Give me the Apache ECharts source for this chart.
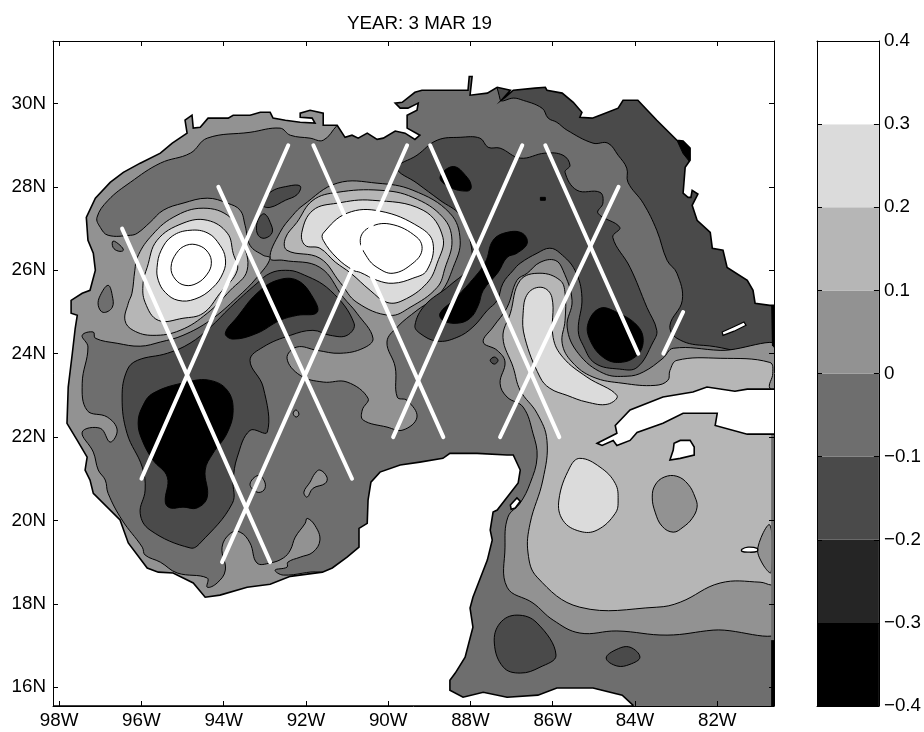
<!DOCTYPE html>
<html><head><meta charset="utf-8">
<style>html,body{margin:0;padding:0;background:#fff}#c{width:924px;height:732px}</style>
<script src="https://cdn.jsdelivr.net/npm/echarts@6/dist/echarts.min.js"></script>
</head><body><div id="c"></div>
<script>
// All coordinates: [degrees West, degrees North]
const xTicks=[98,96,94,92,90,88,86,84,82];
const yTicks=[16,18,20,22,24,26,28,30];
const colorLevels=[-0.4,-0.3,-0.2,-0.1,0,0.1,0.2,0.3,0.4];
const title='YEAR: 3 MAR 19';

const basin=[[98.2,31.6],[80.4,31.6],[80.4,15.4],[98.2,15.4]];
const westShelf=[[91.05,30.08],[91.05,29.65],[91.24,29.48],[91.58,29.12],[91.9,29.17],[92.38,29.24],[92.63,29.41],[93.36,29.31],[94.4,29.17],[94.81,28.81],[95.54,28.57],[96.27,28.11],[96.81,27.68],[97.08,27.27],[97,27.03],[96.81,26.84],[96.27,26.84],[96.1,26.89],[95.79,27.15],[95.47,27.44],[94.99,27.61],[94.4,27.73],[93.91,27.61],[93.6,27.44],[93.48,27.08],[93.36,26.6],[93.04,26.36],[92.87,26.29],[93.19,25.83],[93.67,25.35],[94.33,24.8],[94.99,24.44],[95.54,24.28],[96.03,24.18],[96.59,24.25],[97.12,24.37],[97.17,24.52],[97.44,24.44],[97.3,24.16],[97.44,23.29],[97.32,22.64],[96.83,22.48],[96.59,22.17],[96.76,21.88],[97,22.21],[97.44,22.12],[97.17,21.64],[97.05,21.21],[96.88,20.97],[96.81,20.65],[96.47,20.01],[95.98,19.36],[95.91,19.17],[95.54,19],[95.13,18.74],[94.4,18.62],[94.4,18.4],[94.16,18.5],[93.96,18.81],[94.04,19.36],[93.84,19.69],[93.6,19.72],[93.36,19.46],[93.19,18.98],[92.87,18.98],[92.55,19.1],[92.38,19.29],[92.26,19.6],[92.02,19.93],[91.97,20.05],[91.78,19.88],[91.66,19.53],[91.83,19.24],[92.14,19.12],[92.44,19],[92.46,18.88],[92.75,18.81],[92.55,18.69],[91.66,18.76],[91.6,18.57],[93.36,17.61],[98.3,17.61],[98.3,30.08]];
const westPatchA=[[96.69,26.7],[96.52,26.6],[96.44,26.48],[96.56,26.46],[96.69,26.55]];
const westPatchB=[[96.81,25.64],[96.71,25.4],[96.71,25.11],[96.93,24.99],[97.05,25.16],[97,25.4]];
const eddy1Ring1=[[96.16,26],[96.1,26.31],[95.79,26.79],[95.23,27.27],[94.5,27.49],[93.84,27.27],[93.55,26.72],[93.43,26],[93.84,25.52],[94.4,24.97],[95.06,24.56],[95.72,24.44],[96.2,24.56],[96.4,24.8],[96.32,25.21],[96.23,25.45]];
const eddy1Ring2=[[95.96,25.69],[95.86,26.07],[95.62,26.72],[94.99,27.13],[94.4,27.2],[93.91,26.89],[93.77,26.41],[93.67,26],[94.09,25.45],[94.5,24.97],[94.99,24.85],[95.59,24.8],[95.91,25.23]];
const eddy1Ring3=[[95.62,26.07],[95.52,26.48],[95.25,26.82],[94.82,26.96],[94.38,26.89],[94.09,26.6],[93.96,26.29],[94.01,25.95],[94.28,25.57],[94.7,25.31],[95.11,25.28],[95.42,25.47],[95.59,25.76]];
const eddy1Core=[[95.28,26.07],[95.15,26.41],[94.91,26.6],[94.62,26.6],[94.38,26.43],[94.3,26.17],[94.4,25.91],[94.65,25.69],[94.94,25.64],[95.18,25.79]];
const eddy2Ring0=[[92.87,26.29],[92.63,26.91],[92.32,27.32],[92.07,27.56],[91.24,28.09],[90.27,28.09],[89.4,27.92],[88.5,27.37],[88.25,26.72],[88.42,26.07],[88.74,25.45],[89.3,25.04],[89.78,24.64],[90.03,24.28],[89.83,23.68],[89.78,22.96],[89.54,22.88],[89.3,22.48],[89.64,22.17],[90.03,22.24],[90.61,22.41],[90.63,22.65],[90.49,22.93],[91,23.32],[91.58,23.32],[92.14,23.48],[92.46,23.89],[92.22,24.16],[91.73,24.08],[91.17,24.01],[90.61,24.13],[90.37,24.37],[90.76,24.97],[91.09,25.35],[91.66,26.07],[92.55,26.24]];
const eddy2Ring1=[[92.22,27.15],[92.5,26.77],[92.46,26.48],[91.66,26.29],[91.17,25.71],[90.76,25.23],[89.96,24.92],[89.47,25.11],[88.81,25.59],[88.62,26.05],[88.45,26.72],[88.67,27.27],[89.4,27.75],[90.2,27.92],[91.24,27.87],[91.83,27.68]];
const eddy2Ring2=[[92.1,26.91],[92.02,26.6],[91.66,26.53],[91.29,26.2],[90.91,25.93],[90.44,25.52],[90.03,25.23],[89.64,25.28],[89.06,25.69],[88.81,26.17],[88.67,26.79],[89.15,27.44],[90.39,27.68],[91.24,27.61],[91.83,27.44]];
const eddy2Ring3=[[91.58,26.89],[91.58,26.72],[91.24,26.29],[90.85,26],[90.68,25.95],[90.27,25.76],[89.88,25.69],[89.4,25.81],[89.06,26],[88.91,26.65],[89.23,27.03],[90.2,27.42],[91,27.37]];
const eddy2Core=[[90.68,26.72],[90.49,27.01],[89.96,27.11],[89.3,26.79],[89.18,26.48],[89.4,26.17],[89.88,25.93],[90.27,26.07],[90.51,26.31]];
const centralLow=[[89.78,28.45],[89.3,28.76],[88.81,29.12],[88.25,29.19],[87.77,29.17],[87.57,28.95],[87.28,28.93],[86.79,28.69],[86.19,28.81],[85.75,28.76],[85.58,28.52],[85.7,28.35],[85.41,27.92],[84.85,27.87],[84.78,27.61],[84.9,27.37],[84.37,27.03],[84.54,26.79],[84.12,26.07],[83.71,25.11],[83.47,24.56],[83.56,24.28],[83.95,23.67],[84.37,23.63],[84.97,23.77],[85.26,24.2],[85.38,24.56],[85.29,25.35],[85.46,26],[85.82,26.41],[86.07,26.53],[86.38,26.41],[86.79,26.17],[86.96,26],[87.21,25.69],[87.35,25.28],[87.59,25.04],[87.94,24.64],[88.33,24.39],[88.81,24.3],[89.23,24.49],[89.35,24.68],[89.11,25.16],[88.5,25.64],[88.01,26.12],[88.01,26.72],[88.25,27.32],[88.74,27.68],[89.3,28.09]];
const floridaShelf=[[87.28,31.6],[87.28,30.1],[86.96,30.13],[86.79,30.1],[86.26,29.89],[86.11,29.65],[85.9,29.55],[85.65,29.36],[85.02,29.05],[84.66,29.05],[84.41,28.76],[84.2,28.45],[84.17,28.11],[83.8,27.61],[83.47,26.96],[83.22,26.24],[82.98,25.93],[82.85,25.28],[83.15,24.68],[82.98,24.37],[82.34,24.2],[80.4,24.25],[80.4,31.6]];
const southwestLow=[[96.35,23.6],[96.47,22.96],[96.35,22.09],[95.98,21.28],[95.91,20.73],[96.03,20.17],[95.79,19.77],[94.81,19.34],[94.57,19.46],[93.79,20.41],[93.77,20.97],[93.67,21.52],[93.36,22.16],[92.94,22.12],[93.04,23.2],[93.36,23.84],[93.04,24.16],[92.38,24.44],[91.83,24.56],[91.41,24.44],[91,24.44],[90.83,24.73],[91.41,25.52],[92.14,25.93],[92.5,26],[92.87,25.93],[93.19,25.69],[93.84,25.11],[94.33,24.63],[94.82,24.25],[95.37,24.01],[96.1,23.84]];
const loopOuter=[[86.31,26.19],[86.62,25.93],[86.87,25.76],[87.11,25.11],[87.45,24.64],[87.69,24.28],[87.35,24.08],[87.16,23.8],[87.28,23.29],[87.11,22.96],[86.72,22.72],[86.48,22.09],[86.38,21.52],[86.55,20.89],[86.79,20.42],[87.09,20.08],[87.16,19.36],[87.11,18.4],[86.48,18.02],[85.99,17.61],[85.34,17.3],[84.44,17.35],[83.22,17.25],[82.1,17.37],[80.35,17.49],[80.35,24.04],[81.93,24.08],[83.07,24.13],[83.32,23.89],[83.8,23.56],[84.19,23.46],[84.77,23.53],[85.38,24.01],[85.65,24.64],[85.53,25.28],[85.75,26],[85.94,26.24]];
const loopInner=[[86.79,25.76],[86.31,25.93],[85.82,25.76],[85.7,25.45],[85.7,24.8],[85.77,24.25],[85.53,23.8],[85.02,23.44],[84.29,23.29],[83.51,23.24],[83.2,23.36],[83.15,23.6],[82.98,23.84],[81.93,23.89],[80.72,23.79],[80.65,23.53],[80.72,23.17],[80.35,23],[80.35,18.45],[80.68,18.45],[80.96,18.52],[81.93,18.5],[82.9,18.04],[83.47,17.92],[85.34,17.92],[86.38,18.64],[86.6,19.22],[86.55,19.93],[86.24,20.97],[86.14,21.92],[86.38,22.57],[86.79,23.12],[86.96,23.67],[87.21,24.39],[87.03,24.97]];
const loopCore=[[86.72,24.97],[86.6,25.45],[86.26,25.59],[86.02,25.35],[85.99,24.39],[85.75,23.91],[85.17,23.44],[84.44,23],[84.66,22.79],[85.17,22.84],[85.65,23],[86.07,23.17],[86.31,23.44],[86.68,24.39]];
const southHighA=[[85.58,21.28],[85.34,21.49],[84.85,21.28],[84.48,20.89],[84.41,20.49],[84.48,20.17],[84.92,19.77],[85.34,19.74],[85.75,20],[85.85,20.49]];
const southPatchB=[[83.58,20.56],[83.51,20.85],[83.29,21.04],[82.98,21.06],[82.71,20.87],[82.54,20.56],[82.49,20.32],[82.61,20.05],[82.83,19.84],[83.07,19.72],[83.34,19.86],[83.51,20.2]];
const eastPatch=[[80.72,19.89],[81.01,19.36],[80.91,18.98],[80.69,18.76]];
const hondurasLowA=[[86.87,17.73],[86.38,17.54],[85.92,16.77],[86.31,16.48],[86.79,16.34],[87.2,16.48],[87.42,17.06],[87.28,17.54]];
const hondurasLowB=[[84.7,16.7],[84.44,16.91],[84.12,16.96],[83.88,16.72],[84.12,16.55],[84.44,16.51]];
const northCore=[[88.74,28.23],[88.42,28.49],[88.08,28.23],[87.98,27.99],[88.08,27.9],[88.5,27.99]];
const midCore=[[87.45,26.72],[87.11,26.91],[86.74,26.89],[86.62,26.65],[86.87,26.41],[87.11,26.31],[87.33,25.95],[87.69,25.52],[87.81,25.16],[88.01,24.85],[88.33,24.73],[88.67,24.8],[88.74,24.97],[88.42,25.28],[88.01,25.71],[87.64,26.19]];
const loopLowCore=[[85.14,24.73],[84.85,25.09],[84.44,24.99],[83.95,24.68],[83.8,24.32],[83.95,23.96],[84.37,23.79],[84.77,23.91],[85.09,24.32]];
const tinyCore=[[86.3,27.75],[86.18,27.75],[86.18,27.68],[86.3,27.68]];
const bigBendCore=[[82.98,29.12],[82.83,29.1],[82.66,28.93],[82.66,28.59],[82.83,28.8]];
const shelfLowA=[[93,27.35],[92.87,27.15],[92.82,26.91],[93,26.77],[93.16,26.84],[93.2,27.08],[93.11,27.3]];
const shelfLowB=[[92.14,28.02],[92.43,28.02],[92.87,27.87],[93.04,27.56],[92.87,27.51],[92.5,27.68],[92.21,27.82]];
const campecheCore=[[95.98,22.72],[95.72,23.05],[94.89,23.32],[94.33,23.36],[93.91,23.12],[93.77,22.64],[93.92,22.09],[94.26,21.61],[94.45,21.21],[94.4,20.56],[94.65,20.3],[94.99,20.32],[95.3,20.3],[95.42,20.44],[95.37,21.04],[95.72,21.45],[95.98,21.92],[96.08,22.33]];
const centralCore=[[93.96,24.49],[93.67,24.88],[93.19,25.45],[92.7,25.76],[92.21,25.76],[91.83,25.35],[91.73,24.99],[92.21,24.92],[92.63,24.8],[93.19,24.49],[93.77,24.35]];
const dotA=[[92.31,22.57],[92.24,22.65],[92.17,22.55],[92.24,22.48]];
const dotB=[[93.16,21.08],[93,20.92],[93.02,20.73],[93.19,20.68],[93.36,20.87]];
const dotC=[[91.66,21.21],[91.49,21.04],[91.53,20.89],[91.83,20.77],[91.97,20.56],[92.05,20.68],[91.9,20.92],[91.78,21.13]];
const dotD=[[87.42,23.92],[87.33,23.84],[87.42,23.75],[87.52,23.84]];
const straitEdge=[[80.69,25.16],[80.5,25.16],[80.5,24],[80.67,24.2]];
const rimEdge=[[80.69,22.07],[80.5,22.07],[80.5,15.5],[80.69,15.5]];
const rimEdgeDark=[[80.69,17.13],[80.5,17.13],[80.5,15.5],[80.69,15.5]];
const land=[[80.6,31.5],[80.6,25.16],[80.72,25.16],[81.08,25.21],[81.13,25.52],[81.27,25.76],[81.76,26.07],[81.86,26.48],[82.12,26.53],[82.17,26.91],[82.49,27.2],[82.61,27.56],[82.47,27.83],[82.61,27.92],[82.64,27.75],[82.71,27.75],[82.83,27.85],[82.78,28.47],[82.66,28.64],[82.66,28.93],[82.83,29.1],[82.98,29.12],[83.47,29.6],[83.93,30.08],[84.29,30.08],[84.41,29.89],[84.85,29.72],[85.04,29.65],[85.34,29.67],[85.29,29.79],[85.5,30.03],[85.77,30.25],[86.14,30.32],[86.18,30.39],[86.43,30.37],[86.96,30.32],[87.16,30.15],[87.23,30.1],[87.03,30.32],[87.35,30.39],[87.59,30.25],[88.01,30.2],[87.96,30.65],[88.03,30.65],[88.06,30.32],[88.57,30.32],[89.18,30.32],[89.35,30.27],[89.66,30.03],[89.83,30.01],[89.71,29.89],[89.52,29.89],[89.27,30.01],[89.3,29.84],[89.54,29.72],[89.54,29.41],[89.23,29.24],[89.35,29.14],[89.59,29.29],[89.83,29.34],[90.12,29.17],[90.27,29.14],[90.51,29.29],[90.73,29.17],[90.88,29.24],[91.05,29.19],[91.24,29.48],[91.58,29.48],[91.58,29.77],[91.9,29.84],[92.14,29.77],[92.14,29.67],[91.85,29.65],[91.78,29.53],[92.14,29.55],[92.5,29.6],[92.8,29.65],[92.87,29.79],[93.11,29.79],[93.36,29.72],[93.77,29.72],[93.89,29.65],[94.38,29.65],[94.57,29.43],[94.74,29.41],[94.77,29.72],[94.94,29.6],[94.89,29.29],[95.25,29.05],[95.54,28.81],[96.03,28.57],[96.44,28.35],[96.76,28.11],[97.12,27.73],[97.34,27.27],[97.3,26.72],[97.17,26.41],[97.12,26],[97.25,25.52],[97.44,25.45],[97.71,25.28],[97.71,24.97],[97.56,24.92],[97.61,24.61],[97.68,24.01],[97.78,23.2],[97.81,22.33],[97.56,21.92],[97.32,21.52],[97.37,21.21],[97.25,20.97],[97.17,20.65],[96.52,20.01],[96.32,19.46],[95.86,18.86],[95.59,18.76],[95.23,18.74],[94.74,18.5],[94.45,18.16],[94.09,18.21],[93.43,18.4],[92.87,18.47],[92.38,18.66],[91.6,18.76],[91.36,18.86],[91,19.12],[90.71,19.36],[90.71,19.81],[90.51,19.93],[90.49,20.49],[90.42,20.92],[90.2,21.16],[89.71,21.33],[89.23,21.4],[88.67,21.49],[88.5,21.61],[87.84,21.61],[87.11,21.57],[86.96,21.57],[86.79,21.21],[86.84,20.9],[87.35,20.25],[87.45,20.2],[87.52,19.77],[87.47,19.53],[87.59,19.05],[87.94,18.16],[88.01,17.9],[87.94,17.44],[88.13,16.72],[88.37,16.34],[88.5,16.17],[88.5,15.93],[88.18,15.76],[87.69,15.88],[87.11,15.76],[86.36,15.81],[85.9,15.98],[85.02,15.98],[84.31,15.81],[84.05,15.57],[84.05,15.55],[98.15,15.55],[98.15,31.5]];
const cuba=[[84.92,21.85],[84.44,22.09],[84.48,22.28],[84.12,22.65],[83.32,22.96],[82.59,23.08],[82.25,23.2],[81.57,23.1],[81.27,23.15],[80.6,23.15],[80.6,22.07],[81.27,22.07],[82.05,22.28],[82,22.57],[82.83,22.57],[83.32,22.33],[83.95,22.11],[84.12,21.92],[84.44,21.8],[84.53,21.92],[84.8,21.8]];
const isleOfYouth=[[82.9,21.92],[82.66,21.92],[82.56,21.76],[82.56,21.57],[82.9,21.49],[83.15,21.45],[83.07,21.69],[83.05,21.85]];
const cozumel=[[87.03,20.37],[86.87,20.54],[86.79,20.46],[86.91,20.3],[87.01,20.27]];
const keys=[[81.88,24.52],[81.61,24.64],[81.35,24.76],[81.3,24.68],[81.59,24.54],[81.86,24.44]];
const caymans=[[81.4,19.31],[81.25,19.36],[81.03,19.33],[81.03,19.26],[81.25,19.24],[81.4,19.26]];

const tracks=[
 [[96.47,27.0],[92.87,19.0]],[[94.13,28.0],[90.88,21.0]],[[96.0,21.0],[92.43,29.0]],[[94.04,19.0],[89.54,29.0]],
 [[91.82,29.0],[88.66,22.0]],[[88.98,29.0],[85.84,22.0]],[[86.74,29.0],[89.88,22.0]],[[86.18,29.0],[83.92,24.0]],
 [[84.4,28.0],[87.28,22.0]],[[82.83,25.0],[83.31,24.0]]];

const G=['#000000','#252525','#4a4a4a','#6e6e6e','#929292','#b6b6b6','#dbdbdb','#ffffff'];
function L(pts,fill,stroke,smooth,lw){return {pts,fill,stroke:stroke?'#000':null,smooth:smooth?0.4:0,lw:lw||1};}
const layers=[
 L(basin,G[3],false,false),
 L(westShelf,G[4],true,true),L(westPatchA,G[3],true,true),L(westPatchB,G[3],true,true),
 L(eddy2Ring0,G[4],true,true),
 L(floridaShelf,G[2],true,true),L(centralLow,G[2],true,true),L(southwestLow,G[2],true,true),
 L(shelfLowA,G[2],true,true),L(shelfLowB,G[2],true,true),
 L(eddy1Ring1,G[5],true,true),L(eddy1Ring2,G[6],true,true),L(eddy1Ring3,G[7],true,true),L(eddy1Core,G[7],true,true),
 L(eddy2Ring1,G[5],true,true),L(eddy2Ring2,G[6],true,true),L(eddy2Ring3,G[7],true,true),L(eddy2Core,G[7],true,true),
 L(loopOuter,G[4],true,true),L(loopInner,G[5],true,true),L(loopCore,G[6],true,true),
 L(southHighA,G[6],true,true),L(southPatchB,G[4],true,true),L(eastPatch,G[4],true,true),
 L(hondurasLowA,G[2],true,true),L(hondurasLowB,G[2],true,true),
 L(northCore,G[0],true,true),L(midCore,G[0],true,true),L(loopLowCore,G[0],true,true),L(tinyCore,G[0],true,false),L(bigBendCore,G[0],true,false),
 L(campecheCore,G[0],true,true),L(centralCore,G[0],true,true),
 L(dotA,G[4],true,true),L(dotB,G[4],true,true),L(dotC,G[4],true,true),L(dotD,G[2],true,true),
 L(straitEdge,G[0],false,false),L(rimEdge,G[3],false,false),L(rimEdgeDark,G[0],false,false),
 L(land,'#ffffff',true,false,1.6),L(cuba,'#ffffff',true,false,1.6),L(isleOfYouth,'#ffffff',true,false,1.6),L(cozumel,'#ffffff',true,false,1.6),
 L(keys,'#ffffff',true,false,1.2),L(caymans,'#ffffff',true,true,1.4)
];
const FONT='"Liberation Sans",Arial,sans-serif',FS=18.8;
const cells=colorLevels.slice(0,-1).map((lo,i)=>[lo,colorLevels[i+1],i]);
const axisLine={show:true,onZero:false,lineStyle:{color:'#000',width:1}};
const inTick=(vals)=>({show:true,inside:true,length:5,lineStyle:{color:'#000',width:1},customValues:vals});
const chart=echarts.init(document.getElementById('c'),null,{renderer:'canvas'});
chart.setOption({
 animation:false,backgroundColor:'#fff',
 title:{text:title,left:414.5,top:9,textAlign:'center',textStyle:{fontFamily:FONT,fontSize:FS,fontWeight:'normal',color:'#000'}},
 grid:[{left:53,top:41,width:721,height:665},{left:817,top:41,width:62,height:665}],
 xAxis:[
  {gridIndex:0,z:10,type:'value',inverse:true,min:80.62,max:98.15,position:'bottom',axisLine,axisTick:inTick(xTicks),splitLine:{show:false},
   axisLabel:{customValues:xTicks,formatter:v=>v+'W',fontFamily:FONT,fontSize:FS,color:'#000',margin:5}},
  {gridIndex:0,z:10,type:'value',inverse:true,min:80.62,max:98.15,position:'top',axisLine,axisTick:inTick(xTicks),splitLine:{show:false},axisLabel:{show:false}},
  {gridIndex:1,z:10,type:'value',min:0,max:1,position:'bottom',axisLine,axisTick:{show:false},splitLine:{show:false},axisLabel:{show:false}},
  {gridIndex:1,z:10,type:'value',min:0,max:1,position:'top',axisLine,axisTick:{show:false},splitLine:{show:false},axisLabel:{show:false}}
 ],
 yAxis:[
  {gridIndex:0,z:10,type:'value',min:15.55,max:31.5,position:'left',axisLine,axisTick:inTick(yTicks),splitLine:{show:false},
   axisLabel:{customValues:yTicks,formatter:v=>v+'N',fontFamily:FONT,fontSize:FS,color:'#000',margin:7}},
  {gridIndex:0,z:10,type:'value',min:15.55,max:31.5,position:'right',axisLine,axisTick:inTick(yTicks),splitLine:{show:false},axisLabel:{show:false}},
  {gridIndex:1,z:10,type:'value',min:-0.4,max:0.4,interval:0.1,position:'right',axisLine,axisTick:{show:true,inside:true,length:5,lineStyle:{color:'#000'}},splitLine:{show:false},
   axisLabel:{formatter:v=>{const r=Math.round(v*10)/10;return r===0?'0':(r<0?'\u2212'+(-r).toFixed(1):r.toFixed(1));},fontFamily:FONT,fontSize:FS,color:'#000',margin:5}},
  {gridIndex:1,z:10,type:'value',min:-0.4,max:0.4,interval:0.1,position:'left',axisLine,axisTick:{show:true,inside:true,length:5,lineStyle:{color:'#000'}},splitLine:{show:false},axisLabel:{show:false}}
 ],
 series:[
  {type:'custom',coordinateSystem:'cartesian2d',xAxisIndex:0,yAxisIndex:0,clip:true,silent:true,
   data:layers.map((l,i)=>[l.pts[0][0],l.pts[0][1],i]),
   renderItem:(p,api)=>{const l=layers[p.dataIndex];
     return {type:'polygon',shape:{points:l.pts.map(c=>api.coord(c)),smooth:l.smooth},
       style:{fill:l.fill,stroke:l.stroke,lineWidth:l.lw}};}},
  ...tracks.map(t=>({type:'line',xAxisIndex:0,yAxisIndex:0,data:t,symbol:'none',silent:true,z:5,
     lineStyle:{color:'#fff',width:4,cap:'round'}})),
  {type:'custom',coordinateSystem:'cartesian2d',xAxisIndex:2,yAxisIndex:2,silent:true,z:1,
   data:cells,
   renderItem:(p,api)=>{const c=cells[p.dataIndex];
     return {type:'polygon',shape:{points:[[0,c[0]],[1,c[0]],[1,c[1]],[0,c[1]]].map(q=>api.coord(q))},style:{fill:G[c[2]]}};}}
 ]
});
</script></body></html>
